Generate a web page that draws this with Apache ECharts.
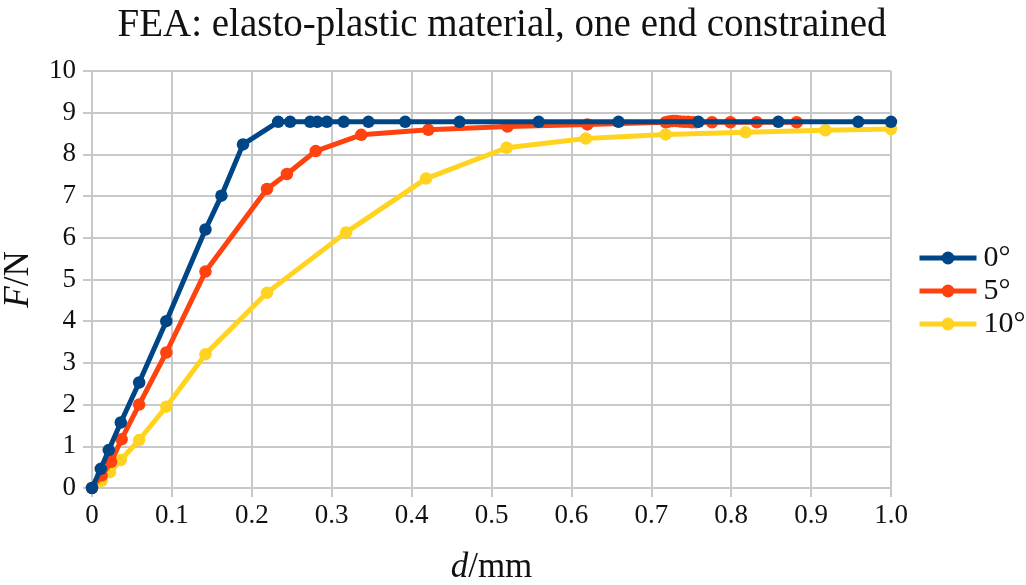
<!DOCTYPE html>
<html><head><meta charset="utf-8">
<script src="https://cdn.jsdelivr.net/npm/echarts@6/dist/echarts.min.js"></script>
<style>html,body{margin:0;padding:0;background:#fff}#c{width:1026px;height:585px}</style>
</head><body><div id="c"></div>
<script>
const seriesNames = ['0°', '5°', '10°'];
const x0 = [0, 0.011, 0.021, 0.036, 0.059, 0.093, 0.142, 0.162, 0.189, 0.233, 0.248, 0.273, 0.282, 0.294, 0.315, 0.346, 0.392, 0.46, 0.559, 0.659, 0.759, 0.859, 0.959, 1.0];
const y0 = [0, 0.46, 0.91, 1.57, 2.53, 4.0, 6.2, 7.01, 8.24, 8.78, 8.78, 8.78, 8.78, 8.78, 8.78, 8.78, 8.78, 8.78, 8.78, 8.78, 8.78, 8.78, 8.78, 8.78];
const x5 = [0, 0.012, 0.024, 0.037, 0.059, 0.093, 0.142, 0.219, 0.244, 0.280, 0.337, 0.421, 0.520, 0.620, 0.718, 0.722, 0.727, 0.731, 0.736, 0.741, 0.746, 0.751, 0.756, 0.776, 0.799, 0.832, 0.882];
const y5 = [0, 0.3, 0.63, 1.17, 2.0, 3.25, 5.19, 7.17, 7.53, 8.08, 8.47, 8.59, 8.67, 8.72, 8.77, 8.79, 8.80, 8.80, 8.79, 8.78, 8.78, 8.77, 8.77, 8.77, 8.77, 8.77, 8.77];
const x10 = [0, 0.012, 0.0225, 0.036, 0.059, 0.093, 0.142, 0.219, 0.318, 0.418, 0.519, 0.618, 0.718, 0.818, 0.918, 1.0];
const y10 = [0, 0.17, 0.38, 0.67, 1.15, 1.95, 3.21, 4.68, 6.13, 7.42, 8.16, 8.38, 8.48, 8.53, 8.58, 8.61];
const colors = ['#004586', '#ff420e', '#ffd320'];

const font = 'Liberation Serif';
function pairs(xs, ys){ return xs.map((v,i)=>[v, ys[i]]); }
function mkSeries(idx, xs, ys, z){
  return { name: seriesNames[idx], type: 'line', data: pairs(xs, ys), symbol: 'circle', symbolSize: 12.5,
    lineStyle: { width: 5, color: colors[idx] }, itemStyle: { color: colors[idx] }, z: z };
}
const chart = echarts.init(document.getElementById('c'));
const gridColor = '#c8c8c8';
const nameRich = { i: { fontFamily: font, fontStyle: 'italic', fontSize: 35, color:'#111' }, n: { fontFamily: font, fontSize: 35, color:'#111' } };
chart.setOption({
  animation: false,
  title: { text: 'FEA: elasto-plastic material, one end constrained', left: 497, textAlign: 'center', top: 1,
    textStyle: { fontFamily: font, fontWeight: 'normal', fontSize: 39, color: '#111' } },
  legend: { orient: 'vertical', left: 912, top: 238, itemWidth: 57, itemHeight: 16, itemGap: 3,
    lineStyle: { width: 5 },
    textStyle: { fontFamily: font, fontSize: 30, color: '#111', padding: [0,0,0,2] },
    data: seriesNames },
  grid: { left: 92, right: 135, top: 71, bottom: 97, outerBoundsMode: 'none', containLabel: false },
  xAxis: { type: 'value', min: 0, max: 1, interval: 0.1,
    name: '{i|d}{n|/mm}', nameLocation: 'middle', nameGap: 62,
    nameTextStyle: { rich: nameRich },
    axisLine: { show: true, lineStyle: { color: gridColor, width: 2 } },
    axisTick: { show: true, length: 9, lineStyle: { color: gridColor, width: 2 } },
    splitLine: { show: true, lineStyle: { color: gridColor, width: 2 } },
    axisLabel: { fontFamily: font, fontSize: 27, color: '#111', margin: 14, hideOverlap: false,
      formatter: v => v === 0 ? '0' : v.toFixed(1) } },
  yAxis: { type: 'value', min: 0, max: 10, interval: 1,
    name: '{i|F}{n|/N}', nameLocation: 'middle', nameGap: 56, nameRotate: 90,
    nameTextStyle: { rich: nameRich },
    axisLine: { show: true, lineStyle: { color: gridColor, width: 2 } },
    axisTick: { show: true, length: 9, lineStyle: { color: gridColor, width: 2 } },
    splitLine: { show: true, lineStyle: { color: gridColor, width: 2 } },
    axisLabel: { fontFamily: font, fontSize: 27, color: '#111', margin: 16 } },
  series: [ mkSeries(2, x10, y10, 1), mkSeries(1, x5, y5, 2), mkSeries(0, x0, y0, 3) ]
});
</script></body></html>
